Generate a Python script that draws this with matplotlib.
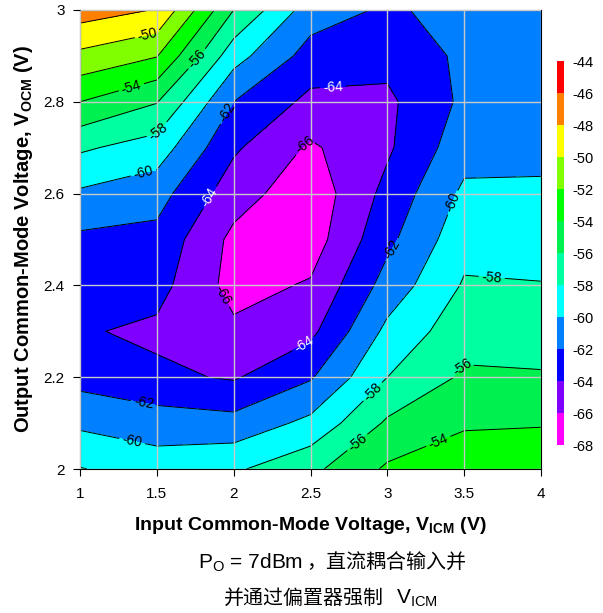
"""
Contour map of output level vs. input / output common-mode voltage.
"""

import matplotlib
matplotlib.use("Agg")
import matplotlib.pyplot as plt
from matplotlib.colors import ListedColormap, BoundaryNorm
import numpy as np

plt.rcParams["font.family"] = ["Liberation Sans", "Noto Sans CJK SC"]
plt.rcParams["mathtext.fontset"] = "custom"
plt.rcParams["mathtext.rm"] = "Liberation Sans"
plt.rcParams["mathtext.bf"] = "Liberation Sans:bold"
plt.rcParams["mathtext.it"] = "Liberation Sans:italic"

# x grid: input common-mode voltage (V)
vicm = [1.0, 1.5, 2.0, 2.5, 3.0, 3.5, 4.0]
# y grid: output common-mode voltage (V)
vocm = [2.0, 2.1, 2.2, 2.3, 2.4, 2.5, 2.6, 2.7, 2.8, 2.9, 3.0]
# measured level (dBc), one row per VOCM value
level_db = [
    [-57.9, -59.0, -58.3, -56.5, -53.7, -53.0, -53.0],
    [-60.4, -61.0, -61.3, -59.5, -55.7, -54.2, -54.1],
    [-62.7, -63.6, -64.2, -62.2, -58.0, -55.7, -55.8],
    [-63.8, -64.4, -65.6, -64.5, -59.5, -56.8, -57.0],
    [-63.3, -63.3, -66.7, -65.8, -61.2, -57.8, -57.9],
    [-62.4, -62.6, -66.5, -67.0, -62.5, -58.7, -59.0],
    [-60.3, -61.2, -65.1, -67.3, -63.4, -59.6, -59.7],
    [-57.7, -58.9, -63.7, -66.3, -64.3, -60.8, -60.5],
    [-54.0, -55.9, -62.0, -64.5, -64.4, -61.6, -60.8],
    [-50.5, -51.9, -59.2, -62.8, -63.4, -61.6, -61.0],
    [-47.0, -48.1, -56.0, -61.0, -62.3, -61.3, -61.0],
]
levels = [-68, -66, -64, -62, -60, -58, -56, -54, -52, -50, -48, -46, -44]
band_colors = ["#ff00ff", "#8000ff", "#0000ff", "#0080ff", "#00ffff", "#00ffa0",
               "#00f050", "#00ff00", "#80ff00", "#ffff00", "#ff8000", "#ff0000"]

# where the contour labels sit (x, y)
label_spots_black = [(1.44, 2.946), (1.33, 2.837), (1.74, 2.90), (1.49, 2.74),
                     (1.41, 2.65), (1.94, 2.78), (2.45, 2.71), (3.43, 2.58),
                     (3.07, 2.47), (3.68, 2.42), (1.91, 2.375), (1.42, 2.155),
                     (1.35, 2.08), (2.9, 2.17), (3.49, 2.22), (2.8, 2.06),
                     (3.32, 2.07)]
label_spots_white = [(1.80, 2.60), (2.64, 2.86), (2.46, 2.27)]

X, Y = np.meshgrid(vicm, vocm)
Z = np.array(level_db)

cmap = ListedColormap(band_colors)
norm = BoundaryNorm(levels, cmap.N)

fig = plt.figure(figsize=(6.03, 6.13), dpi=100)
ax = fig.add_axes([0.1327, 0.2349, 0.7645, 0.7488])

cf = ax.contourf(X, Y, Z, levels=levels, cmap=cmap, norm=norm)

black_levels = [lv for lv in levels if lv != -64]
cs = ax.contour(X, Y, Z, levels=black_levels, colors="black",
                linewidths=0.7, linestyles="solid")
cs64 = ax.contour(X, Y, Z, levels=[-64], colors="black",
                  linewidths=0.7, linestyles="solid")

ax.clabel(cs, fmt="%d", fontsize=10, colors="black",
          manual=label_spots_black, inline=True, inline_spacing=3)
ax.clabel(cs64, fmt="%d", fontsize=10, colors="white",
          manual=label_spots_white, inline=True, inline_spacing=3)

ax.set_xlim(1, 4)
ax.set_ylim(2, 3)
ax.set_xticks([1, 1.5, 2, 2.5, 3, 3.5, 4])
ax.set_xticklabels(["1", "1.5", "2", "2.5", "3", "3.5", "4"])
ax.set_yticks([2, 2.2, 2.4, 2.6, 2.8, 3])
ax.set_yticklabels(["2", "2.2", "2.4", "2.6", "2.8", "3"])
ax.tick_params(direction="out", length=5, labelsize=11, pad=6)
ax.tick_params(axis="x", pad=8)
ax.set_axisbelow(False)
ax.grid(True, color="#c8c8c8", linewidth=1)

ax.set_xlabel(r"Input Common-Mode Voltage, V$_\mathbf{ICM}$ (V)",
              fontsize=14, fontweight="bold", labelpad=10)
ax.set_ylabel(r"Output Common-Mode Voltage, V$_\mathbf{OCM}$ (V)",
              fontsize=14.5, fontweight="bold", labelpad=6)

# colour bar
cax = fig.add_axes([0.923, 0.274, 0.0121, 0.6264])
cb = fig.colorbar(cf, cax=cax, ticks=levels)
cb.outline.set_visible(False)
cb.ax.set_yticklabels([str(lv) for lv in levels])
cax.tick_params(length=0, labelsize=10.5, pad=6)

# caption (latin + subscripts through mathtext, Chinese as plain text)
cjk = ["Noto Sans CJK SC", "DejaVu Sans"]
fig.text(0.502, 0.082, "P$_\\mathrm{O}$ = 7dBm", ha="right", va="center",
         fontsize=15)
fig.text(0.508, 0.082, "，直流耦合输入并", ha="left", va="center",
         fontsize=14.4, family=cjk)
fig.text(0.637, 0.024, "并通过偏置器强制", ha="right", va="center",
         fontsize=14.4, family=cjk)
fig.text(0.656, 0.024, "V$_\\mathrm{ICM}$", ha="left", va="center",
         fontsize=15)

fig.savefig("out.png", dpi=100)
plt.close(fig)
